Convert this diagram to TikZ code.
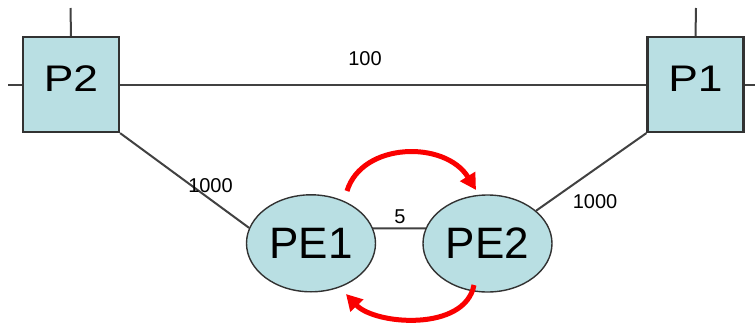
\documentclass[tikz,border=0pt]{standalone}
\usepackage{fontspec}
\setmainfont{Liberation Sans}
\usetikzlibrary{shapes.geometric,arrows.meta}
\pgfdeclarelayer{bg}
\pgfsetlayers{bg,main}
\definecolor{nodefill}{RGB}{185,223,227}
\definecolor{edgec}{RGB}{50,50,50}
\definecolor{linkc}{RGB}{65,65,65}
\definecolor{arr}{RGB}{250,0,0}
\begin{document}
\begin{tikzpicture}[x=1pt,y=-1pt,
  router/.style={draw=edgec, line width=2.2pt, fill=nodefill, minimum width=96pt, minimum height=95pt, inner sep=0pt, font=\fontsize{37}{40}\selectfont},
  pe/.style={ellipse, draw=edgec, line width=1.4pt, fill=nodefill, minimum width=129pt, minimum height=97pt, inner sep=0pt, font=\fontsize{44}{48}\selectfont},
  link/.style={draw=linkc, line width=2pt},
  lbl/.style={font=\fontsize{20}{22}\selectfont, inner sep=0pt},
  flow/.style={draw=arr, line width=5pt, -{Triangle[length=16pt,width=17pt]}}]
\useasboundingbox (0,0) rectangle (755,324);
% stub end points
\coordinate (p2up) at (70.5,8);
\coordinate (p2left) at (8,84.5);
\coordinate (p1up) at (696,8);
\coordinate (p1right) at (755,84.5);
% nodes
\node[router] (P2) at (71,84.5) {\raisebox{12pt}{\scalebox{1.2}[1]{P2}}};
\node[router] (P1) at (695.5,84.5) {\raisebox{12pt}{\scalebox{1.2}[1]{P1}}};
\node[pe] (PE1) at (311,243.3) {PE1};
\node[pe] (PE2) at (487.5,243.5) {PE2};
% links
\begin{pgfonlayer}{bg}
\draw[link] (p2up) -- (P2.north);
\draw[link] (p2left) -- (P2.west);
\draw[link] (p1up) -- (P1.north);
\draw[link] (P1.east) -- (p1right);
\draw[link] (P2.east) -- (P1.west);
\draw[link] (P2.south east) -- (PE1.166);
\draw[link] (P1.south west) -- (PE2.34);
\draw[link] ([yshift=15pt]PE1.center) -- ([yshift=15pt]PE2.center);
\end{pgfonlayer}
% labels
\node[lbl] (l100) at (365,59) {100};
\node[lbl] (l1000a) at (210.5,186) {1000};
\node[lbl] (l1000b) at (595,202) {1000};
\node[lbl] (l5) at (400,217) {5};
% red flows
\coordinate (f1s) at (347,191);
\coordinate (f1e) at (476,190);
\coordinate (f2s) at (474,285);
\coordinate (f2e) at (346,294);
\draw[flow] (f1s) .. controls (362,142) and (445,140) .. (f1e);
\draw[flow] (f2s) .. controls (465,332) and (375,325) .. (f2e);
\end{tikzpicture}
\end{document}
